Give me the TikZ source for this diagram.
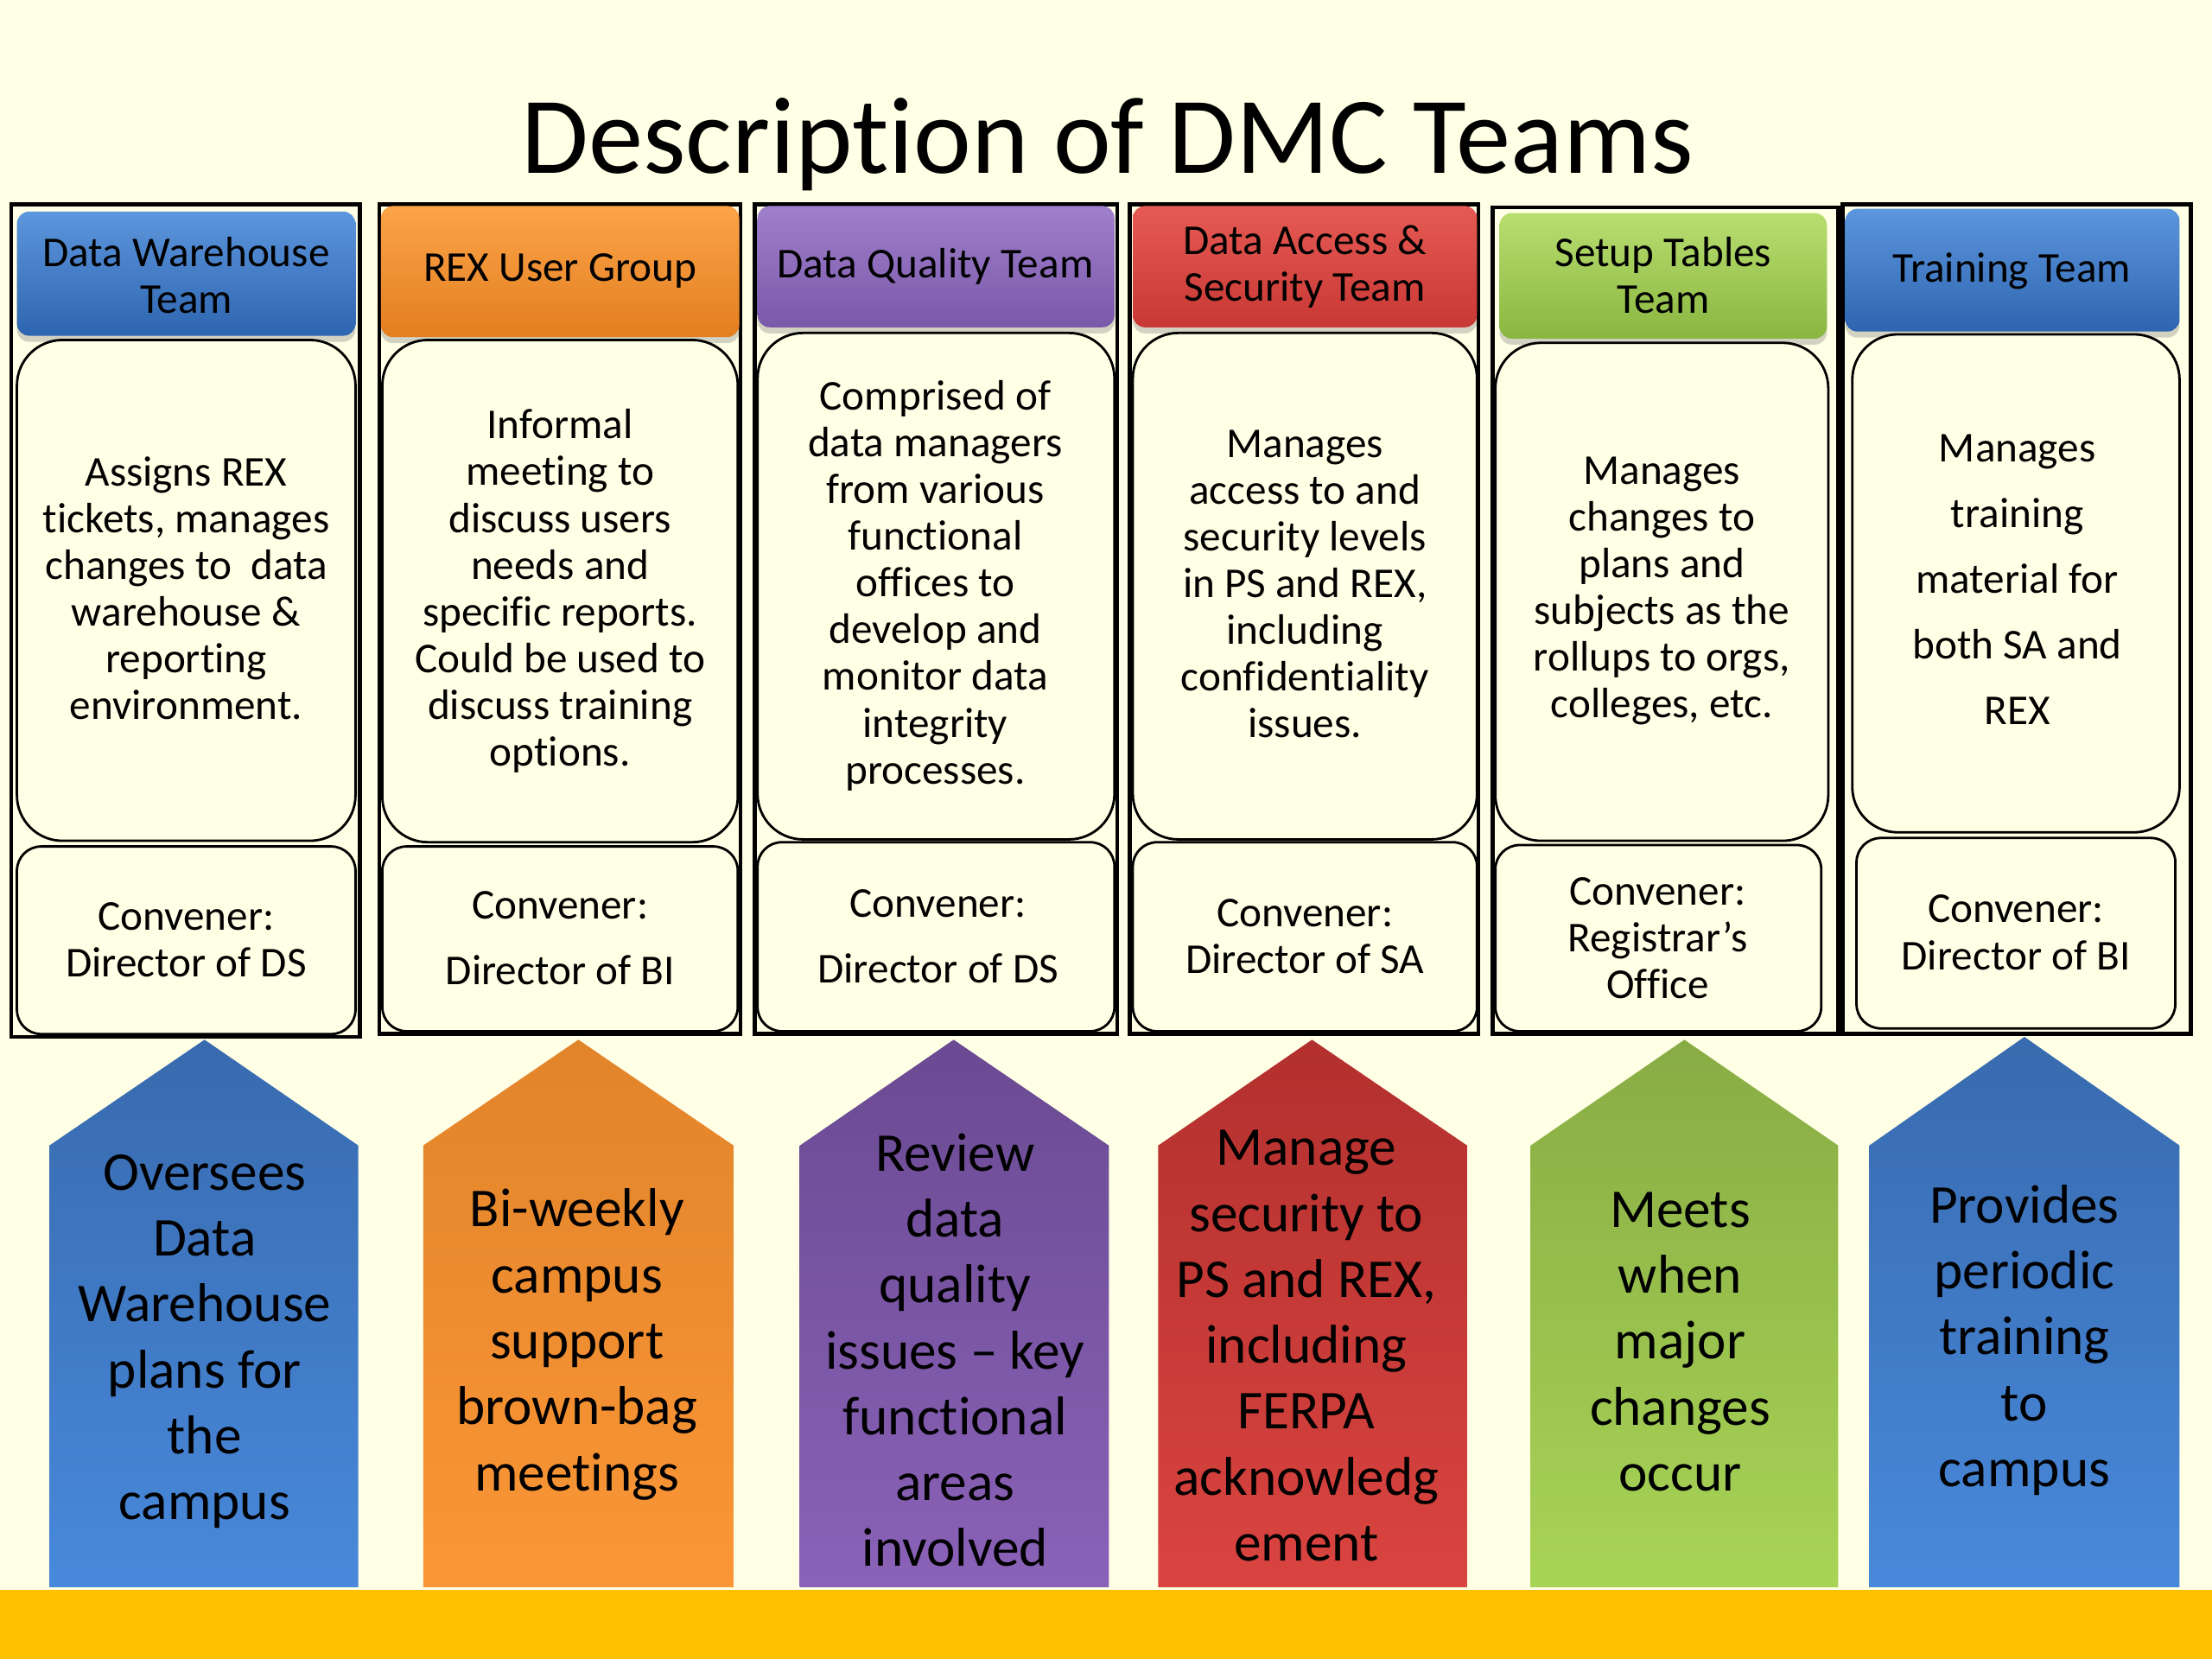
\documentclass[tikz,border=0pt]{standalone}
\usepackage{fontspec}
\setmainfont{Carlito}[Ligatures=NoCommon]
\usetikzlibrary{shadows}

\definecolor{creambg}{HTML}{FFFFE6}
\definecolor{bandgold}{HTML}{FFC000}

\begin{document}
\begin{tikzpicture}[x=0.016327cm, y={(0cm,-0.016327cm)},
    teambox/.style={draw, line width=1.3pt},
    headbox/.style={rounded corners=4pt, drop shadow={opacity=0.35, shadow xshift=0pt, shadow yshift=-2pt}},
    descbox/.style={draw, line width=0.8pt, rounded corners=15pt, fill=creambg},
    convbox/.style={draw, line width=0.8pt, rounded corners=8pt, fill=creambg},
    boxtext/.style={align=center, font=\fontsize{14}{15.4}\selectfont},
    widetext/.style={align=center, font=\fontsize{14}{21.6}\selectfont},
    arrowtext/.style={align=center, font=\fontsize{18}{21.7}\selectfont}]

    % Page and bottom band
    \fill[creambg] (0,0) rectangle (1568,1176);
    \fill[bandgold] (0,1127) rectangle (1568,1176);
    \useasboundingbox (0,0) rectangle (1568,1176);

    % Title
    \node[anchor=base, font=\fontsize{36}{40}\selectfont] (title) at (785,123) {Description of DMC Teams};

    % --- Column 1: Data Warehouse Team ---
    \draw[teambox] (8,145) rectangle (255,735);
    \shade[headbox, top color={rgb,255:red,92;green,150;blue,220}, bottom color={rgb,255:red,46;green,101;blue,176}] (12,150) rectangle (252,238);
    \node[boxtext] (dwHead) at (132,195) {Data Warehouse\\Team};
    \draw[descbox] (12,241) rectangle (252,596);
    \node[boxtext] (dwDesc) at (132,417) {Assigns REX\\tickets, manages\\changes to\ \ data\\warehouse \&\\reporting\\environment.};
    \draw[convbox] (12,600) rectangle (252,733);
    \node[boxtext] (dwConv) at (132,666) {Convener:\\Director of DS};

    % --- Column 2: REX User Group ---
    \draw[teambox] (269,145) rectangle (525,733);
    \shade[headbox, top color={rgb,255:red,252;green,164;blue,72}, bottom color={rgb,255:red,226;green,126;blue,32}] (270,146) rectangle (524,239);
    \node[boxtext] (rexHead) at (397,192) {REX User Group};
    \draw[descbox] (271,241) rectangle (523,597);
    \node[boxtext] (rexDesc) at (397,419) {Informal\\meeting to\\discuss users\\needs and\\specific reports.\\Could be used to\\discuss training\\options.};
    \draw[convbox] (271,600) rectangle (523,731);
    \node[widetext] (rexConv) at (397,665) {Convener:\\Director of BI};

    % --- Column 3: Data Quality Team ---
    \draw[teambox] (535,145) rectangle (792,733);
    \shade[headbox, top color={rgb,255:red,160;green,128;blue,204}, bottom color={rgb,255:red,122;green,88;blue,170}] (537,146) rectangle (790,232);
    \node[boxtext] (dqHead) at (663,189) {Data Quality Team};
    \draw[descbox] (537,236) rectangle (790,595);
    \node[boxtext] (dqDesc) at (663,415) {Comprised of\\data managers\\from various\\functional\\offices to\\develop and\\monitor data\\integrity\\processes.};
    \draw[convbox] (537,597) rectangle (790,731);
    \node[widetext] (dqConv) at (665,664) {Convener:\\Director of DS};

    % --- Column 4: Data Access & Security Team ---
    \draw[teambox] (801,145) rectangle (1048,733);
    \shade[headbox, top color={rgb,255:red,230;green,90;blue,84}, bottom color={rgb,255:red,200;green,56;blue,52}] (803,146) rectangle (1047,232);
    \node[boxtext] (dasHead) at (925,189) {Data Access \&\\Security Team};
    \draw[descbox] (803,236) rectangle (1047,595);
    \node[boxtext] (dasDesc) at (925,414) {Manages\\access to and\\security levels\\in PS and REX,\\including\\confidentiality\\issues.};
    \draw[convbox] (803,597) rectangle (1047,731);
    \node[boxtext] (dasConv) at (925,664) {Convener:\\Director of SA};

    % --- Column 5: Setup Tables Team ---
    \draw[teambox] (1058,147) rectangle (1303,733);
    \shade[headbox, top color={rgb,255:red,184;green,222;blue,112}, bottom color={rgb,255:red,138;green,182;blue,64}] (1063,151) rectangle (1295,240);
    \node[boxtext] (stHead) at (1179,195) {Setup Tables\\Team};
    \draw[descbox] (1060,243) rectangle (1296,596);
    \node[boxtext] (stDesc) at (1178,419) {Manages\\changes to\\plans and\\subjects as the\\rollups to orgs,\\colleges, etc.};
    \draw[convbox] (1060,599) rectangle (1291,731);
    \node[boxtext] (stConv) at (1175,665) {Convener:\\Registrar’s\\Office};

    % --- Column 6: Training Team ---
    \draw[teambox] (1306,145) rectangle (1553,733);
    \shade[headbox, top color={rgb,255:red,92;green,150;blue,220}, bottom color={rgb,255:red,46;green,101;blue,176}] (1308,148) rectangle (1545,235);
    \node[boxtext] (trHead) at (1426,192) {Training Team};
    \draw[descbox] (1313,237) rectangle (1545,590);
    \node[widetext] (trDesc) at (1430,411) {Manages\\training\\material for\\both SA and\\REX};
    \draw[convbox] (1316,594) rectangle (1542,729);
    \node[boxtext] (trConv) at (1429,661) {Convener:\\Director of BI};

    % --- Up arrows with the team roles ---
    \shade[top color={rgb,255:red,56;green,106;blue,174}, bottom color={rgb,255:red,72;green,137;blue,219}]
        (35,1125) -- (35,812) -- (145,737) -- (254,812) -- (254,1125) -- cycle;
    \node[arrowtext] (dwRole) at (145,951) {Oversees\\Data\\Warehouse\\plans for\\the\\campus};

    \shade[top color={rgb,255:red,226;green,132;blue,42}, bottom color={rgb,255:red,250;green,150;blue,54}]
        (300,1125) -- (300,812) -- (410,737) -- (520,812) -- (520,1125) -- cycle;
    \node[arrowtext] (rexRole) at (409,953) {Bi-weekly\\campus\\support\\brown-bag\\meetings};

    \shade[top color={rgb,255:red,106;green,74;blue,146}, bottom color={rgb,255:red,138;green,98;blue,184}]
        (567,1125) -- (567,812) -- (676,737) -- (786,812) -- (786,1125) -- cycle;
    \node[arrowtext] (dqRole) at (677,957) {Review\\data\\quality\\issues – key\\functional\\areas\\involved};

    \shade[top color={rgb,255:red,178;green,48;blue,46}, bottom color={rgb,255:red,218;green,68;blue,64}]
        (821,1125) -- (821,812) -- (930,737) -- (1040,812) -- (1040,1125) -- cycle;
    \node[arrowtext] (dasRole) at (926,954) {Manage\\security to\\PS and REX,\\including\\FERPA\\acknowledg\\ement};

    \shade[top color={rgb,255:red,136;green,172;blue,68}, bottom color={rgb,255:red,168;green,212;blue,86}]
        (1085,1125) -- (1085,812) -- (1194,737) -- (1303,812) -- (1303,1125) -- cycle;
    \node[arrowtext] (stRole) at (1191,951) {Meets\\when\\major\\changes\\occur};

    \shade[top color={rgb,255:red,56;green,106;blue,174}, bottom color={rgb,255:red,72;green,137;blue,219}]
        (1325,1125) -- (1325,812) -- (1435,735) -- (1545,812) -- (1545,1125) -- cycle;
    \node[arrowtext] (trRole) at (1435,950) {Provides\\periodic\\training\\to\\campus};

\end{tikzpicture}
\end{document}
